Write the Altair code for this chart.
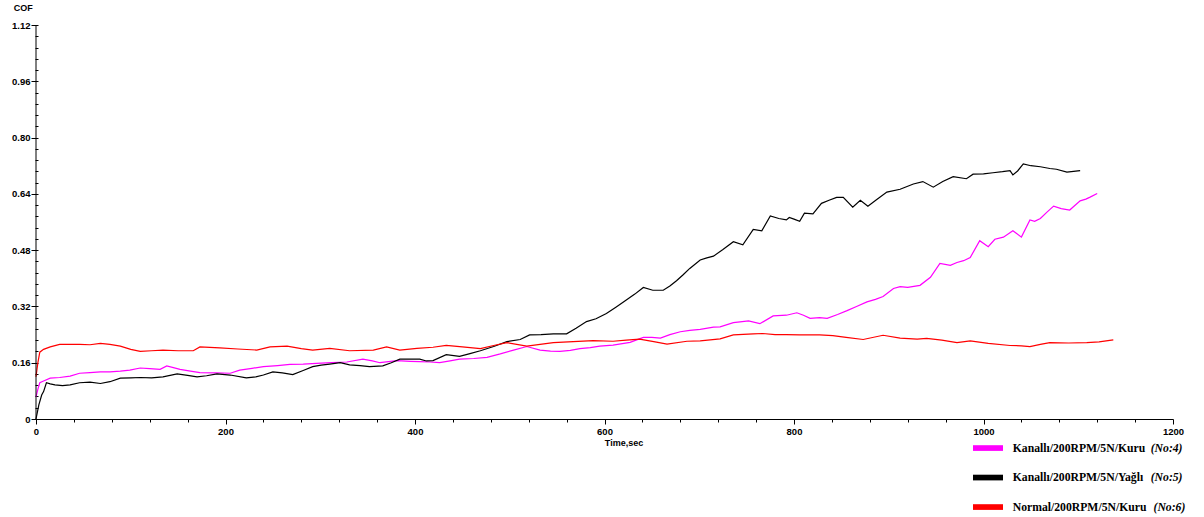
import altair as alt
import pandas as pd

# --- Kanallı/200RPM/5N/Kuru (No:4) ---
mag_t = [0, 2, 4, 8, 15, 25, 36, 46, 57, 68, 78, 89, 99, 110, 120, 131, 138, 145, 152,
         163, 173, 190, 205, 215, 228, 240, 255, 268, 282, 296, 312, 328, 345, 355, 363,
         372, 381, 395, 405, 416, 426, 437, 447, 462, 476, 490, 504, 518, 532, 543, 553,
         564, 574, 585, 595, 609, 627, 641, 650, 659, 669, 680, 690, 701, 715, 722, 736,
         743, 752, 764, 778, 792, 803, 810, 817, 827, 835, 846, 856, 866, 877, 886, 894,
         905, 912, 920, 933, 944, 954, 965, 972, 979, 986, 996, 1005, 1012, 1021, 1031,
         1040, 1049, 1054, 1060, 1067, 1074, 1082, 1091, 1102, 1108, 1112, 1120]
mag_cof = [0.063, 0.085, 0.103, 0.108, 0.116, 0.118, 0.122, 0.130, 0.132, 0.134, 0.134,
           0.136, 0.139, 0.145, 0.143, 0.141, 0.151, 0.146, 0.141, 0.136, 0.132, 0.131,
           0.130, 0.139, 0.144, 0.149, 0.152, 0.155, 0.156, 0.158, 0.160, 0.162, 0.170,
           0.165, 0.160, 0.163, 0.166, 0.164, 0.163, 0.162, 0.160, 0.165, 0.170, 0.172,
           0.175, 0.185, 0.196, 0.206, 0.196, 0.193, 0.192, 0.195, 0.200, 0.203, 0.207,
           0.210, 0.218, 0.232, 0.232, 0.230, 0.240, 0.248, 0.252, 0.255, 0.261, 0.262,
           0.274, 0.276, 0.279, 0.271, 0.293, 0.295, 0.302, 0.295, 0.286, 0.288, 0.286,
           0.297, 0.308, 0.320, 0.333, 0.340, 0.348, 0.371, 0.376, 0.374, 0.380, 0.403,
           0.442, 0.437, 0.445, 0.450, 0.459, 0.507, 0.490, 0.511, 0.517, 0.535, 0.517,
           0.566, 0.562, 0.570, 0.588, 0.605, 0.598, 0.594, 0.620, 0.625, 0.630, 0.641]

# --- Kanallı/200RPM/5N/Yağlı (No:5) ---
blk_t = [0, 3, 6, 8, 11, 15, 20, 28, 36, 46, 57, 68, 78, 89, 100, 110, 122, 134, 149, 160,
         170, 180, 191, 205, 222, 232, 240, 250, 260, 271, 282, 292, 301, 310, 321, 331,
         342, 352, 366, 375, 384, 395, 405, 412, 419, 433, 447, 458, 469, 483, 497, 511,
         521, 533, 546, 560, 570, 581, 591, 602, 612, 623, 632, 641, 651, 662, 669, 676,
         683, 690, 701, 708, 715, 725, 736, 746, 757, 766, 775, 784, 792, 795, 800, 806,
         811, 820, 829, 837, 845, 852, 862, 870, 878, 887, 898, 912, 926, 936, 947, 957,
         968, 982, 989, 1000, 1010, 1020, 1028, 1031, 1036, 1042, 1050, 1060, 1070, 1077,
         1088, 1095, 1102]
blk_cof = [0.000, 0.040, 0.068, 0.078, 0.103, 0.100, 0.097, 0.095, 0.097, 0.103, 0.105,
           0.101, 0.106, 0.116, 0.117, 0.118, 0.117, 0.120, 0.128, 0.124, 0.120, 0.123,
           0.128, 0.125, 0.117, 0.120, 0.125, 0.134, 0.131, 0.126, 0.138, 0.149, 0.153,
           0.156, 0.160, 0.154, 0.152, 0.149, 0.151, 0.160, 0.170, 0.170, 0.170, 0.165,
           0.166, 0.183, 0.178, 0.186, 0.194, 0.206, 0.220, 0.226, 0.239, 0.240, 0.242,
           0.242, 0.258, 0.277, 0.285, 0.300, 0.318, 0.338, 0.355, 0.374, 0.366, 0.366,
           0.378, 0.393, 0.410, 0.428, 0.452, 0.458, 0.463, 0.482, 0.504, 0.495, 0.539,
           0.535, 0.577, 0.570, 0.566, 0.573, 0.568, 0.562, 0.585, 0.583, 0.613, 0.622,
           0.630, 0.630, 0.602, 0.622, 0.605, 0.623, 0.645, 0.653, 0.668, 0.675, 0.659,
           0.675, 0.689, 0.683, 0.696, 0.697, 0.700, 0.703, 0.706, 0.694, 0.705, 0.725,
           0.720, 0.717, 0.712, 0.710, 0.702, 0.704, 0.706]

# --- Normal/200RPM/5N/Kuru (No:6) ---
red_t = [0, 2, 4, 8, 15, 25, 36, 46, 57, 68, 78, 89, 100, 110, 122, 134, 150, 166, 173,
         194, 213, 233, 247, 265, 280, 292, 310, 331, 356, 370, 384, 402, 419, 433, 450,
         469, 483, 497, 518, 532, 546, 567, 588, 609, 623, 637, 652, 666, 687, 701, 722,
         736, 757, 767, 780, 792, 806, 827, 841, 855, 873, 894, 912, 930, 940, 956, 972,
         986, 1005, 1028, 1040, 1049, 1060, 1070, 1090, 1109, 1122, 1137]
red_cof = [0.120, 0.160, 0.190, 0.198, 0.205, 0.212, 0.212, 0.212, 0.211, 0.215, 0.212,
           0.207, 0.198, 0.192, 0.194, 0.196, 0.194, 0.194, 0.205, 0.202, 0.199, 0.196,
           0.205, 0.207, 0.200, 0.196, 0.201, 0.194, 0.196, 0.205, 0.196, 0.201, 0.204,
           0.209, 0.205, 0.200, 0.209, 0.217, 0.207, 0.212, 0.217, 0.220, 0.223, 0.221,
           0.224, 0.227, 0.220, 0.213, 0.221, 0.222, 0.228, 0.239, 0.242, 0.243, 0.240,
           0.240, 0.239, 0.239, 0.237, 0.232, 0.226, 0.238, 0.230, 0.227, 0.229, 0.224,
           0.217, 0.222, 0.215, 0.209, 0.208, 0.206, 0.212, 0.217, 0.216, 0.217, 0.219,
           0.225]

series_names = ["Kanallı/200RPM/5N/Kuru", "Kanallı/200RPM/5N/Yağlı", "Normal/200RPM/5N/Kuru"]
series_tags = ["(No:4)", "(No:5)", "(No:6)"]
series_colors = ["#ff00ff", "#000000", "#ff0000"]

# axis tick positions (minor + major)
y_ticks = [round(0.032 * k, 3) for k in range(36)]
x_ticks = [40 * k for k in range(31)]

W, H = 1137, 394

frames = []
for i, (name, t, v) in enumerate(zip(series_names, [mag_t, blk_t, red_t], [mag_cof, blk_cof, red_cof])):
    frames.append(pd.DataFrame({"t": t, "cof": v, "series": name, "k": i}))
df = pd.concat(frames, ignore_index=True)

is_major_y = "abs(round(datum.value / 0.16) * 0.16 - datum.value) < 1e-6"
is_major_x = "datum.value % 200 == 0"

lines = alt.Chart(df).mark_line(strokeWidth=1.2).encode(
    x=alt.X(
        "t:Q",
        scale=alt.Scale(domain=[0, 1200], nice=False, zero=False),
        axis=alt.Axis(
            values=x_ticks,
            labelExpr=f"{is_major_x} ? format(datum.value, 'd') : ''",
            tickSize={"condition": {"test": is_major_x, "value": 5}, "value": 3},
            labelPadding=2,
            grid=False,
            domainColor="#000000",
            tickColor="#000000",
            labelFont="Liberation Sans",
            labelFontWeight="bold",
            labelFontSize=9.5,
            labelColor="#000000",
            labelFlush=False,
            title="Time,sec",
            titleFont="Liberation Sans",
            titleFontWeight="bold",
            titleFontSize=9,
            titleColor="#000000",
            titleX=587.5,
            titleY=26,
            titleAlign="center",
            titleBaseline="alphabetic",
            titleAnchor="start",
        ),
    ),
    y=alt.Y(
        "cof:Q",
        scale=alt.Scale(domain=[0, 1.12], nice=False),
        axis=alt.Axis(
            values=y_ticks,
            labelExpr=f"{is_major_y} ? (datum.value == 0 ? '0' : format(datum.value, '.2f')) : ''",
            tickSize={"condition": {"test": is_major_y, "value": 7}, "value": 3},
            offset=-2,
            domain=False,
            labelPadding=1,
            grid=False,
            tickColor="#000000",
            labelFont="Liberation Sans",
            labelFontWeight="bold",
            labelFontSize=9.5,
            labelColor="#000000",
            labelFlush=False,
            title="COF",
            titleFont="Liberation Sans",
            titleFontWeight="bold",
            titleFontSize=9,
            titleColor="#000000",
            titleAngle=0,
            titleX=-15.3,
            titleY=-14.3,
            titleAlign="center",
            titleBaseline="alphabetic",
        ),
    ),
    color=alt.Color("series:N", scale=alt.Scale(domain=series_names, range=series_colors), legend=None),
    detail="k:O",
)

one = pd.DataFrame({"a": [0]})

# vertical axis line at x = 0
y_domain = alt.Chart(one).mark_rule(color="#000000", strokeWidth=1).encode(
    x=alt.value(0), y=alt.value(0), y2=alt.value(H)
)

# legend below the plot, right side
tag_x = [1114.7, 1114.7, 1117.5]
legend_layers = []
for i, (name, tag, col) in enumerate(zip(series_names, series_tags, series_colors)):
    base_y = 426.7 + 29.5 * i
    legend_layers.append(
        alt.Chart(one).mark_rect(color=col).encode(
            x=alt.value(937), x2=alt.value(967),
            y=alt.value(base_y - 6.5), y2=alt.value(base_y - 0.8),
        )
    )
    legend_layers.append(
        alt.Chart(one).mark_text(
            text=name, align="left", baseline="alphabetic",
            font="Liberation Serif", fontWeight="bold", fontSize=11.7, color="#000000",
        ).encode(x=alt.value(976.7), y=alt.value(base_y))
    )
    legend_layers.append(
        alt.Chart(one).mark_text(
            text=tag, align="left", baseline="alphabetic",
            font="Liberation Serif", fontWeight="bold", fontStyle="italic",
            fontSize=11.7, color="#000000",
        ).encode(x=alt.value(tag_x[i]), y=alt.value(base_y))
    )

chart = alt.layer(lines, y_domain, *legend_layers).properties(
    width=W,
    height=H,
    padding={"left": 36, "top": 25, "right": 31, "bottom": 98},
    autosize=alt.AutoSizeParams(type="none"),
    background="#ffffff",
).configure_view(stroke=None)

chart.save("out.html", embed_options={"renderer": "svg", "actions": False})
